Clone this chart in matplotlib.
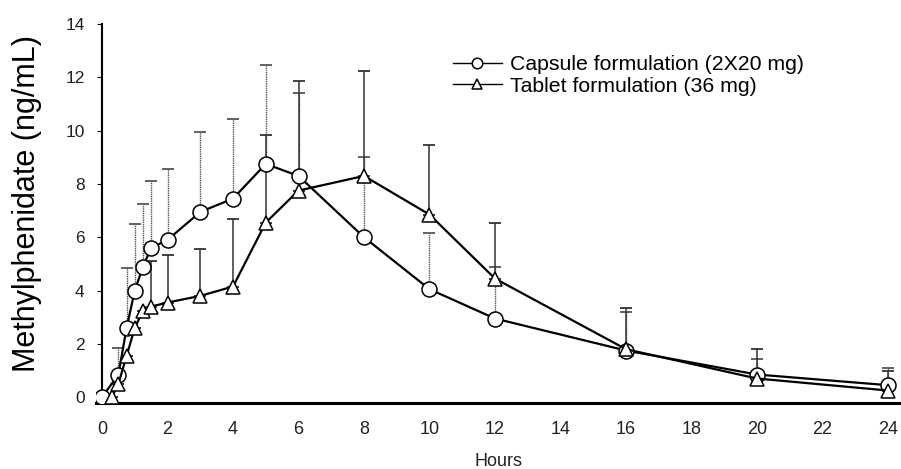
import numpy as np
import matplotlib.pyplot as plt

# Data (hours, ng/mL)
hours = [0, 0.5, 0.75, 1, 1.25, 1.5, 2, 3, 4, 5, 6, 8, 10, 12, 16, 20, 24]
tablet_hours = [0.3, 0.5, 0.75, 1, 1.25, 1.5, 2, 3, 4, 5, 6, 8, 10, 12, 16, 20, 24]

capsule = [0, 0.85, 2.6, 4.0, 4.9, 5.6, 5.9, 6.95, 7.45, 8.75, 8.3, 6.0, 4.05, 2.95, 1.75, 0.85, 0.45]
capsule_top = [0, 1.85, 4.85, 6.5, 7.25, 8.1, 8.55, 9.95, 10.45, 12.45, 11.4, 9.0, 6.15, 4.9, 3.2, 1.45, 1.1]

tablet = [0, 0.5, 1.55, 2.6, 3.25, 3.4, 3.55, 3.8, 4.15, 6.55, 7.75, 8.3, 6.85, 4.45, 1.8, 0.7, 0.25]
tablet_top = [0, 0.5, 1.55, 2.6, 3.25, 5.1, 5.35, 5.55, 6.7, 9.85, 11.85, 12.25, 9.45, 6.55, 3.35, 1.8, 1.0]

labels = ["Capsule formulation (2X20 mg)", "Tablet formulation (36 mg)"]

plt.rcParams['font.family'] = ['Liberation Sans', 'DejaVu Sans']

W, H = 901, 469
fig = plt.figure(figsize=(W / 100, H / 100), dpi=100)

# axes placed in pixel terms
x0, x1 = -0.2, 24.4
y0, y1 = -0.2, 14
left_px, right_px = 95.5, 901
bottom_px, top_px = 402.5, 24
ax = fig.add_axes([left_px / W, 1 - bottom_px / H,
                   (right_px - left_px) / W, (bottom_px - top_px) / H])

# error bars (upper only)
cap_err = np.array(capsule_top) - np.array(capsule)
tab_err = np.array(tablet_top) - np.array(tablet)

eb1 = ax.errorbar(hours, capsule, yerr=[np.zeros(len(hours)), cap_err], fmt='none',
                  ecolor='#555555', elinewidth=1.0, capsize=4.3, capthick=1.3, zorder=1)
eb1[2][0].set_linestyle((0, (1, 0.6)))
ax.errorbar(tablet_hours, tablet, yerr=[np.zeros(len(tablet_hours)), tab_err], fmt='none',
            ecolor='#333333', elinewidth=1.1, capsize=4.3, capthick=1.3, zorder=1)

ax.plot(hours, capsule, color='black', lw=1.6, marker='o', ms=10.8,
        mfc='white', mec='black', mew=1.1, zorder=3, label=labels[0])
ax.plot(tablet_hours, tablet, color='black', lw=1.6, marker='^', ms=10.5,
        mfc='white', mec='black', mew=1.1, zorder=3, label=labels[1])

ax.set_xlim(x0, x1)
ax.set_ylim(y0, y1)
ax.set_xticks(range(0, 25, 2))
ax.set_yticks(range(0, 15, 2))

for s in ['top', 'right']:
    ax.spines[s].set_visible(False)
ax.spines['left'].set_position(('data', 0))
ax.spines['left'].set_bounds(0, 14)
ax.spines['left'].set_linewidth(1.5)
ax.spines['bottom'].set_linewidth(2.2)

ax.tick_params(axis='x', length=0, pad=13, labelsize=13)
ax.tick_params(axis='y', length=3.5, width=0.8, direction='out', pad=9, labelsize=12.5)
for t in ax.get_xticklabels() + ax.get_yticklabels():
    t.set_color('#222222')

ax.set_xlabel('Hours', fontsize=13, color='#222222', labelpad=11)
fig.text(27 / W, 1 - 203.5 / H, 'Methylphenidate (ng/mL)', rotation=90,
         ha='center', va='center', fontsize=22)

leg = ax.legend(loc='upper left', bbox_to_anchor=(453 / W, 1 - 55 / H),
                bbox_transform=fig.transFigure, frameon=False, fontsize=15.3,
                handlelength=2.3, handletextpad=0.4, borderpad=0, borderaxespad=0,
                labelspacing=0.12, markerscale=0.7)
for h in leg.legend_handles:
    h.set_linewidth(1.0)

fig.savefig('out.png', dpi=100)
